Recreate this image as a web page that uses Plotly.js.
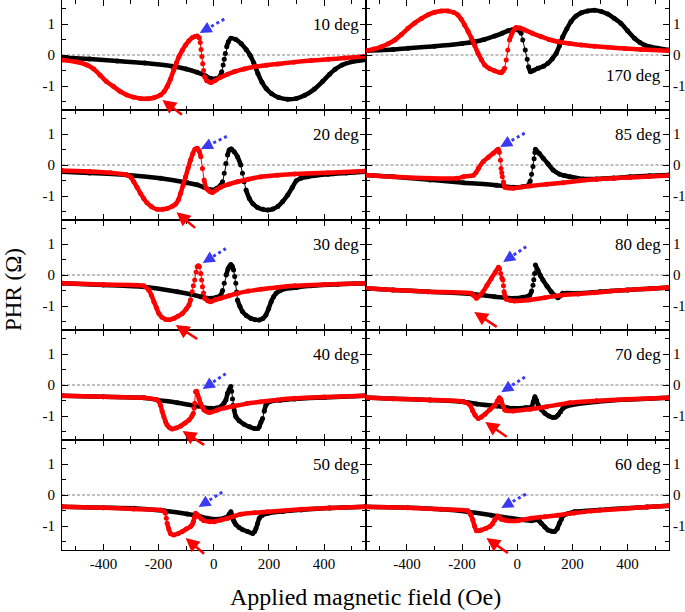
<!DOCTYPE html>
<html>
<head>
<meta charset="utf-8">
<script src="https://cdn.plot.ly/plotly-3.0.1.min.js"></script>
<style>html,body{margin:0;padding:0;background:#fff}#chart{width:685px;height:612px}</style>
</head>
<body>
<div id="chart"></div>
<script>
// ---------------- DATA ----------------
const panelLabels = ['10 deg','20 deg','30 deg','40 deg','50 deg','170 deg','85 deg','80 deg','70 deg','60 deg'];
const xTickVals = [-400,-200,0,200,400];
const xTickText = ['-400','-200','0','200','400'];
const yTickVals = [-1,0,1];
const yTickText = ['-1','0','1'];

// 10 deg
const b10x = [-550,-450,-350,-250,-150,-100,-60,-30,-10,5,20,29,34,38,42,47,53,62,80,100,118,131,145,160,175,190,210,235,268,300,330,365,395,420,440,465,500,550];
const b10y = [-0.08,-0.13,-0.19,-0.26,-0.36,-0.45,-0.56,-0.67,-0.76,-0.77,-0.72,-0.54,-0.32,-0.14,0.05,0.27,0.43,0.54,0.50,0.36,0.17,0.0,-0.25,-0.60,-0.88,-1.08,-1.25,-1.37,-1.43,-1.40,-1.30,-1.10,-0.85,-0.62,-0.46,-0.32,-0.22,-0.15];
const r10x = [-550,-500,-460,-435,-412,-390,-363,-340,-315,-290,-266,-240,-217,-193,-180,-169,-157,-145,-135,-126,-114,-102,-90,-78,-68,-60,-52,-49,-46,-43,-40,-37,-33,-25,-11,5,25,50,74,110,147,190,232,290,353,415,475,550];
const r10y = [-0.16,-0.22,-0.32,-0.45,-0.65,-0.85,-1.02,-1.17,-1.29,-1.36,-1.40,-1.41,-1.38,-1.29,-1.18,-1.02,-0.78,-0.48,-0.25,-0.05,0.15,0.32,0.46,0.56,0.60,0.61,0.55,0.40,0.18,-0.05,-0.28,-0.50,-0.70,-0.83,-0.89,-0.82,-0.72,-0.62,-0.54,-0.45,-0.38,-0.33,-0.29,-0.23,-0.18,-0.14,-0.10,-0.04];

// 20 deg
const b20x = [-550,-450,-315,-193,-96,-60,-35,-15,-5,10,25,32,38,44,50,56,64,74,86,98,104,110,117,129,142,159,178,196,214,232,250,268,285,299,315,341,414,480,550];
const b20y = [-0.22,-0.26,-0.32,-0.43,-0.57,-0.64,-0.72,-0.79,-0.81,-0.76,-0.65,-0.54,-0.27,0.05,0.32,0.48,0.52,0.43,0.27,0.0,-0.27,-0.54,-0.81,-1.08,-1.25,-1.37,-1.43,-1.45,-1.42,-1.34,-1.18,-0.97,-0.72,-0.51,-0.43,-0.38,-0.30,-0.26,-0.22];
const r20x = [-550,-450,-375,-315,-300,-290,-278,-266,-254,-242,-225,-205,-185,-169,-150,-138,-128,-120,-111,-102,-93,-84,-76,-68,-60,-53,-47,-41,-35,-27,-15,-5,10,25,55,86,125,171,230,293,414,550];
const r20y = [-0.18,-0.21,-0.25,-0.32,-0.40,-0.54,-0.72,-0.91,-1.08,-1.22,-1.35,-1.43,-1.43,-1.40,-1.33,-1.26,-1.12,-0.91,-0.65,-0.38,-0.10,0.16,0.36,0.51,0.54,0.45,0.27,-0.11,-0.48,-0.75,-0.85,-0.89,-0.80,-0.72,-0.62,-0.54,-0.46,-0.38,-0.33,-0.29,-0.25,-0.19];

// 30 deg
const b30x = [-550,-400,-254,-132,-80,-47,-11,10,25,32,38,45,52,56,62,67,72,76,80,83,86,95,104,118,135,150,165,178,189,199,208,217,226,240,256,300,353,450,550];
const b30y = [-0.27,-0.32,-0.38,-0.54,-0.63,-0.70,-0.75,-0.72,-0.65,-0.50,-0.27,0.0,0.20,0.27,0.34,0.28,0.16,-0.05,-0.27,-0.55,-0.81,-1.02,-1.18,-1.31,-1.40,-1.44,-1.45,-1.40,-1.29,-1.08,-0.86,-0.70,-0.59,-0.51,-0.45,-0.40,-0.35,-0.30,-0.27];
const r30x = [-550,-400,-254,-236,-226,-217,-208,-199,-188,-175,-160,-145,-130,-114,-100,-90,-84,-78,-74,-69,-64,-60,-56,-52,-47,-44,-41,-37,-33,-22,-11,5,25,55,86,125,171,230,293,400,550];
const r30y = [-0.27,-0.31,-0.35,-0.48,-0.65,-0.86,-1.05,-1.24,-1.36,-1.43,-1.44,-1.40,-1.33,-1.24,-1.10,-0.97,-0.80,-0.54,-0.35,-0.16,0.10,0.27,0.30,0.27,0.05,-0.16,-0.38,-0.58,-0.75,-0.83,-0.86,-0.80,-0.75,-0.67,-0.59,-0.52,-0.46,-0.40,-0.35,-0.31,-0.27];

// 40 deg
const b40x = [-550,-400,-254,-205,-132,-60,-11,10,25,38,44,50,56,62,65,68,70,74,80,92,110,130,147,160,165,171,177,183,189,202,240,293,400,550];
const b40y = [-0.35,-0.38,-0.41,-0.48,-0.57,-0.68,-0.75,-0.74,-0.70,-0.57,-0.48,-0.27,-0.15,-0.05,-0.20,-0.45,-0.65,-0.81,-1.02,-1.15,-1.27,-1.35,-1.40,-1.40,-1.34,-1.20,-1.08,-0.85,-0.65,-0.54,-0.49,-0.45,-0.40,-0.35];
const r40x = [-550,-400,-254,-205,-193,-187,-181,-175,-169,-160,-151,-135,-120,-105,-90,-80,-74,-71,-69,-66,-62,-58,-53,-47,-41,-35,-17,13,40,74,120,171,230,293,400,550];
const r40y = [-0.35,-0.38,-0.41,-0.48,-0.65,-0.85,-1.02,-1.18,-1.29,-1.38,-1.42,-1.38,-1.32,-1.23,-1.13,-1.02,-0.91,-0.75,-0.59,-0.22,-0.20,-0.32,-0.45,-0.61,-0.72,-0.81,-0.89,-0.81,-0.74,-0.68,-0.60,-0.54,-0.48,-0.43,-0.39,-0.35];

// 50 deg
const b50x = [-550,-400,-290,-181,-96,-50,-23,13,40,50,56,62,66,70,74,80,92,105,123,141,148,153,159,165,175,196,250,317,420,550];
const b50y = [-0.38,-0.41,-0.43,-0.51,-0.61,-0.69,-0.75,-0.78,-0.74,-0.70,-0.62,-0.54,-0.65,-0.78,-0.86,-0.95,-1.05,-1.12,-1.18,-1.24,-1.18,-1.08,-0.92,-0.75,-0.66,-0.59,-0.53,-0.48,-0.42,-0.38];
const r50x = [-550,-400,-290,-193,-181,-175,-172,-169,-163,-157,-145,-130,-114,-100,-84,-78,-74,-70,-66,-60,-53,-45,-35,-15,1,25,50,98,150,196,317,420,550];
const r50y = [-0.38,-0.41,-0.45,-0.48,-0.52,-0.59,-0.75,-0.91,-1.10,-1.24,-1.29,-1.25,-1.18,-1.10,-1.02,-0.95,-0.86,-0.72,-0.59,-0.63,-0.70,-0.77,-0.83,-0.86,-0.86,-0.81,-0.75,-0.62,-0.57,-0.54,-0.46,-0.42,-0.38];

// 170 deg
const b170x = [-550,-450,-396,-300,-200,-154,-120,-82,-55,-34,-10,5,14,20,29,36,41,48,60,75,95,111,127,141,153,165,180,195,212,232,255,280,305,328,352,376,400,425,445,461,485,509,550];
const b170y = [0.14,0.18,0.22,0.28,0.37,0.43,0.50,0.61,0.70,0.78,0.83,0.80,0.70,0.48,0.16,-0.14,-0.38,-0.54,-0.49,-0.43,-0.36,-0.27,-0.12,0.05,0.30,0.59,0.85,1.08,1.25,1.36,1.42,1.44,1.40,1.32,1.18,1.02,0.78,0.54,0.40,0.32,0.26,0.22,0.16];
const r170x = [-550,-520,-492,-468,-444,-420,-396,-372,-347,-323,-299,-275,-251,-230,-215,-203,-191,-178,-166,-154,-142,-130,-118,-100,-82,-65,-58,-52,-46,-40,-34,-28,-19,-10,-4,10,27,55,87,115,147,190,232,280,328,390,449,550];
const r170y = [0.14,0.19,0.27,0.36,0.48,0.66,0.86,1.03,1.18,1.30,1.38,1.42,1.42,1.37,1.29,1.15,0.97,0.76,0.54,0.30,0.05,-0.15,-0.32,-0.44,-0.51,-0.56,-0.57,-0.52,-0.43,-0.16,0.16,0.48,0.70,0.84,0.89,0.87,0.81,0.70,0.59,0.50,0.43,0.37,0.32,0.28,0.25,0.21,0.18,0.14];

// 85 deg
const b85x = [-550,-450,-316,-195,-75,-14,20,40,47,52,57,61,64,66,80,94,112,130,154,170,191,239,287,350,408,480,550];
const b85y = [-0.32,-0.38,-0.48,-0.57,-0.65,-0.72,-0.70,-0.65,-0.52,-0.30,-0.05,0.20,0.40,0.51,0.37,0.22,0.03,-0.16,-0.30,-0.34,-0.38,-0.45,-0.45,-0.42,-0.38,-0.35,-0.32];
const r85x = [-550,-450,-316,-219,-195,-159,-150,-140,-123,-105,-87,-75,-69,-65,-61,-59,-56,-54,-50,-45,-30,-14,46,106,166,226,287,350,408,480,550];
const r85y = [-0.32,-0.38,-0.43,-0.43,-0.38,-0.33,-0.25,-0.10,0.11,0.25,0.38,0.47,0.51,0.40,0.15,-0.11,-0.25,-0.38,-0.55,-0.72,-0.74,-0.75,-0.68,-0.62,-0.57,-0.51,-0.46,-0.43,-0.40,-0.37,-0.34];

// 80 deg
const b80x = [-550,-450,-323,-166,-82,-10,20,45,52,57,60,63,66,75,84,93,108,123,135,147,155,165,220,300,400,480,550];
const b80y = [-0.43,-0.48,-0.54,-0.61,-0.70,-0.75,-0.72,-0.65,-0.52,-0.33,-0.15,0.05,0.32,0.15,-0.02,-0.16,-0.36,-0.54,-0.65,-0.73,-0.68,-0.59,-0.59,-0.54,-0.48,-0.44,-0.40];
const r80x = [-550,-450,-323,-166,-157,-148,-136,-124,-110,-94,-80,-68,-64,-60,-56,-52,-50,-48,-44,-40,-25,-10,39,100,159,220,280,340,400,480,550];
const r80y = [-0.43,-0.48,-0.54,-0.59,-0.66,-0.75,-0.66,-0.54,-0.34,-0.11,0.08,0.25,0.20,0.05,-0.10,-0.16,-0.35,-0.54,-0.68,-0.78,-0.82,-0.84,-0.81,-0.73,-0.65,-0.61,-0.57,-0.52,-0.48,-0.44,-0.40];

// 70 deg
const b70x = [-550,-450,-316,-195,-147,-75,-14,30,52,58,64,70,76,88,100,115,130,140,148,157,166,200,287,400,550];
const b70y = [-0.40,-0.44,-0.48,-0.54,-0.61,-0.68,-0.75,-0.73,-0.70,-0.55,-0.38,-0.50,-0.65,-0.80,-0.91,-1.00,-1.05,-1.03,-0.97,-0.86,-0.75,-0.64,-0.54,-0.47,-0.41];
const r70x = [-550,-450,-316,-195,-171,-162,-153,-141,-130,-117,-100,-81,-72,-65,-60,-57,-50,-45,-14,46,106,191,287,400,550];
const r70y = [-0.40,-0.44,-0.48,-0.54,-0.65,-0.82,-0.97,-1.08,-1.03,-0.94,-0.80,-0.65,-0.52,-0.41,-0.46,-0.54,-0.70,-0.81,-0.84,-0.78,-0.70,-0.57,-0.51,-0.46,-0.41];

// 60 deg
const b60x = [-550,-396,-275,-179,-94,-22,51,68,75,80,87,100,111,125,135,145,153,160,165,185,207,300,389,470,550];
const b60y = [-0.38,-0.41,-0.46,-0.54,-0.65,-0.75,-0.83,-0.80,-0.78,-0.84,-0.91,-1.03,-1.13,-1.17,-1.18,-1.08,-0.91,-0.78,-0.68,-0.60,-0.54,-0.48,-0.43,-0.39,-0.35];
const r60x = [-550,-396,-275,-179,-170,-161,-155,-148,-140,-130,-115,-100,-90,-82,-76,-70,-64,-58,-45,-34,2,51,100,147,207,268,389,470,550];
const r60y = [-0.38,-0.41,-0.46,-0.51,-0.62,-0.81,-1.00,-1.15,-1.15,-1.13,-1.08,-1.02,-0.93,-0.81,-0.74,-0.68,-0.72,-0.78,-0.81,-0.83,-0.83,-0.75,-0.70,-0.65,-0.58,-0.52,-0.44,-0.39,-0.35];

// ---------------- BUILD ----------------
const panels = [
  {bx:b10x,by:b10y,rx:r10x,ry:r10y},
  {bx:b20x,by:b20y,rx:r20x,ry:r20y},
  {bx:b30x,by:b30y,rx:r30x,ry:r30y},
  {bx:b40x,by:b40y,rx:r40x,ry:r40y},
  {bx:b50x,by:b50y,rx:r50x,ry:r50y},
  {bx:b170x,by:b170y,rx:r170x,ry:r170y},
  {bx:b85x,by:b85y,rx:r85x,ry:r85y},
  {bx:b80x,by:b80y,rx:r80x,ry:r80y},
  {bx:b70x,by:b70y,rx:r70x,ry:r70y},
  {bx:b60x,by:b60y,rx:r60x,ry:r60y}
];

const FONT = 'Liberation Serif';
const XR = [-550,550], YR = [-1.774,1.774];
const PXX = 303/1100, PXY = 110/(2*1.774);

// break the thick line on very steep (sparsely sampled) segments
function thick(xs, ys){
  const ox=[], oy=[];
  for(let i=0;i<xs.length;i++){
    if(i>0){
      const dx=Math.abs(xs[i]-xs[i-1])*PXX, dy=Math.abs(ys[i]-ys[i-1])*PXY;
      if(dy > 4*dx){ ox.push(null); oy.push(null); }
    }
    ox.push(xs[i]); oy.push(ys[i]);
  }
  return {x:ox,y:oy};
}

const traces=[], layout={
  width:685, height:612, margin:{l:62,r:16,t:0,b:62},
  paper_bgcolor:'#fff', plot_bgcolor:'#fff', showlegend:false,
  font:{family:FONT,color:'#000',size:15},
  shapes:[], annotations:[]
};

panels.forEach((p,k)=>{
  const i=k+1, col=k<5?0:1, row=k%5;
  const xa='x'+i, ya='y'+i;
  [['#000000',p.bx,p.by],['#ff0000',p.rx,p.ry]].forEach(([c,xs,ys])=>{
    const t=thick(xs,ys);
    traces.push({x:t.x,y:t.y,xaxis:xa,yaxis:ya,type:'scatter',mode:'lines',
      line:{color:c,width:4.5,shape:'spline',smoothing:0.6},connectgaps:false,hoverinfo:'skip'});
    traces.push({x:xs,y:ys,xaxis:xa,yaxis:ya,type:'scatter',mode:'lines+markers',
      line:{color:c,width:1},marker:{color:c,size:5},hoverinfo:'skip'});
  });
  layout['xaxis'+(i===1?'':i)]={
    domain: col===0?[0,0.5]:[0.5,1], anchor:ya, range:XR,
    showline:true, linecolor:'#000', linewidth:1, mirror:'ticks',
    ticks:'inside', ticklen:6, tickcolor:'#000', tickwidth:1,
    tickmode:'array', tickvals:xTickVals, ticktext:xTickText,
    minor:{tickmode:'linear',tick0:0,dtick:100,ticks:'inside',ticklen:4,tickcolor:'#000'},
    showticklabels: row===4, showgrid:false, zeroline:false,
    tickfont:{family:FONT,size:15,color:'#000'}
  };
  layout['yaxis'+(i===1?'':i)]={
    domain:[1-(row+1)*0.2, 1-row*0.2], anchor:xa, range:YR,
    side: col===0?'left':'right',
    showline:true, linecolor:'#000', linewidth:1, mirror:'ticks',
    ticks:'inside', ticklen:6, tickcolor:'#000', tickwidth:1,
    tickmode:'array', tickvals:yTickVals, ticktext:yTickText,
    minor:{tickmode:'linear',tick0:0,dtick:0.5,ticks:'inside',ticklen:4,tickcolor:'#000'},
    showgrid:false, zeroline:false, ticklabelstandoff: col===0?3:0,
    tickfont:{family:FONT,size:15,color:'#000'}
  };
  layout.shapes.push({type:'line',xref:xa+' domain',yref:ya,x0:0,x1:1,y0:0,y1:0,
    line:{color:'#808080',width:1,dash:'3px,2px'},layer:'below'});
  const is170 = panelLabels[k]==='170 deg';
  layout.annotations.push({text:panelLabels[k],xref:xa+' domain',yref:ya+' domain',
    x:1,y:is170?0.318:0.773,xanchor:'right',yanchor:'middle',xshift:col===0?-5:-6,
    showarrow:false,font:{family:FONT,size:17,color:'#000'}});
});

// red solid arrows: [panel, tipX, tipY, ax, ay]
const redArrows=[[1,-186,-1.45,21,16],[2,-135,-1.52,20,17],[3,-138,-1.61,23,15],[4,-113,-1.48,23,15],
  [5,-102,-1.39,20,17],[8,-156,-1.19,24,16],[9,-116,-1.19,23,16],[10,-112,-1.39,23,16]];
redArrows.forEach(([i,x,y,ax,ay])=>{
  layout.annotations.push({text:'',xref:'x'+i,yref:'y'+i,x:x,y:y,ax:ax,ay:ay,showarrow:true,
    arrowhead:2,arrowsize:1.1,arrowwidth:2.5,arrowcolor:'#ff0000',standoff:0});
});
// blue dotted arrows: [panel, tipX, tipY, dx, dy]
const blueArrows=[[1,-51,0.71,23,-13],[2,-47,0.52,25,-12],[3,-40,0.39,21,-13],[4,-40,-0.13,21,-14],
  [5,-55,-0.39,22,-14],[7,-62,0.58,23,-13],[8,-51,0.42,21,-14],[9,-58,-0.23,22,-14],[10,-58,-0.42,23,-13]];
blueArrows.forEach(([i,x,y,dx,dy])=>{
  layout.annotations.push({text:'',xref:'x'+i,yref:'y'+i,x:x,y:y,ax:dx*0.4,ay:dy*0.4,showarrow:true,
    arrowhead:2,arrowsize:0.95,arrowwidth:2.5,arrowcolor:'#3a3af2',standoff:0});
  layout.shapes.push({type:'line',xref:'x'+i,yref:'y'+i,xsizemode:'pixel',ysizemode:'pixel',
    xanchor:x,yanchor:y,x0:dx*0.5,y0:-dy*0.5,x1:dx*1.1,y1:-dy*1.1,
    line:{color:'#3a3af2',width:3,dash:'3px,3px'}});
});

// axis titles
layout.annotations.push({text:'Applied magnetic field (Oe)',xref:'paper',yref:'paper',
  x:0.5,y:(550-597)/550,xanchor:'center',yanchor:'middle',showarrow:false,
  font:{family:FONT,size:24,color:'#000'}});
layout.annotations.push({text:'PHR (Ω)',xref:'paper',yref:'paper',textangle:-90,
  x:(13-62)/607,y:(550-290)/550,xanchor:'center',yanchor:'middle',showarrow:false,
  font:{family:FONT,size:23,color:'#000'}});

Plotly.newPlot('chart',traces,layout,{staticPlot:true,displayModeBar:false});
</script>
</body>
</html>
